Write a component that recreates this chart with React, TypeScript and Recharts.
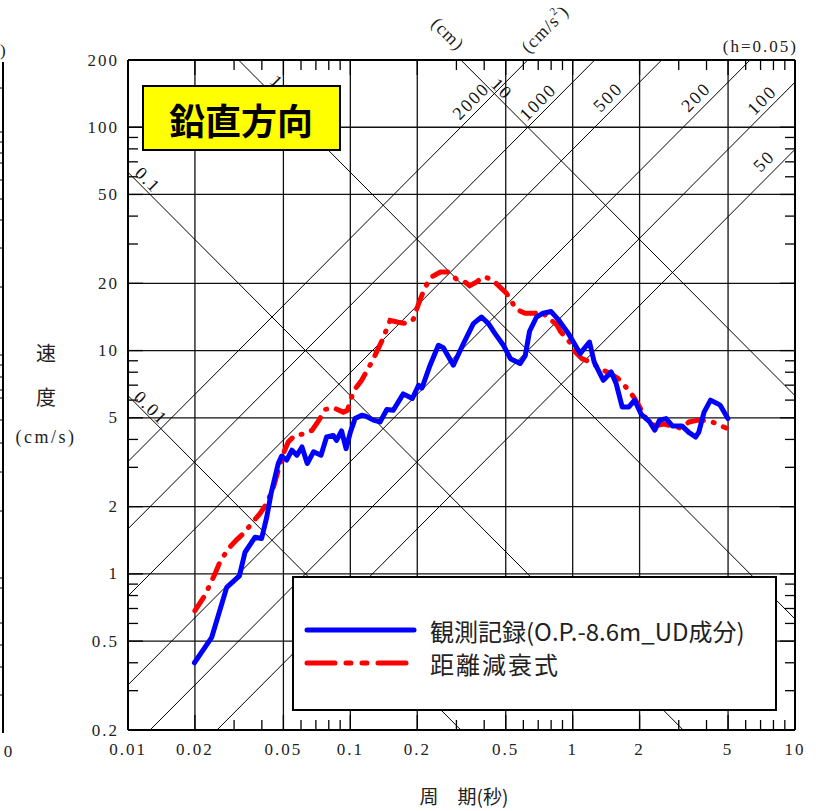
import React from "react";
import { LineChart, Line, XAxis, YAxis, ReferenceLine } from "recharts";

// observed record (O.P.-8.6m UD), period [s] / pseudo velocity [cm/s]
const observedPeriod = [
  0.0199, 0.0238, 0.0278, 0.0317, 0.0336, 0.0373, 0.0399, 0.0421, 0.044, 0.0474,
  0.0491, 0.0517, 0.0546, 0.0575, 0.0606, 0.064, 0.0683, 0.0738, 0.0782, 0.0838,
  0.0867, 0.0913, 0.0957, 0.1, 0.105, 0.1125, 0.1166, 0.127, 0.136, 0.146,
  0.156, 0.173, 0.19, 0.2027, 0.21, 0.2284, 0.249, 0.262, 0.2906, 0.32,
  0.3575, 0.389, 0.418, 0.4477, 0.488, 0.525, 0.58, 0.612, 0.64, 0.687,
  0.736, 0.8, 0.86, 0.958, 1.08, 1.19, 1.25, 1.374, 1.49, 1.57,
  1.67, 1.79, 1.9, 2.03, 2.22, 2.34, 2.46, 2.63, 2.81, 3.1,
  3.33, 3.57, 3.69, 3.9, 4.17, 4.46, 4.6, 4.99,
];
const observedVelocity = [
  0.4, 0.52, 0.87, 0.98, 1.25, 1.46, 1.44, 1.8, 2.29, 3.12,
  3.37, 3.23, 3.58, 3.4, 3.7, 3.12, 3.52, 3.4, 4.1, 4.17,
  3.96, 4.37, 3.64, 4.3, 4.96, 5.13, 5.1, 4.88, 4.79, 5.45,
  5.4, 6.4, 6.1, 6.99, 6.8, 8.6, 10.56, 10.3, 8.6, 10.56,
  13.2, 14.13, 13.2, 11.91, 10.56, 9.2, 8.75, 9.5, 12.2, 14.1,
  14.7, 14.95, 13.8, 11.9, 9.69, 10.92, 8.88, 7.36, 8.02, 7.1,
  5.59, 5.59, 6.0, 5.2, 4.79, 4.4, 4.88, 4.96, 4.6, 4.6,
  4.3, 4.1, 4.3, 5.3, 6.0, 5.8, 5.7, 4.96,
];

// attenuation relation
const attenPeriod = [
  0.02, 0.0222, 0.0246, 0.0259, 0.0283, 0.0308, 0.0336, 0.0359, 0.0392, 0.0421,
  0.0451, 0.0474, 0.05, 0.0526, 0.0563, 0.0615, 0.0672, 0.072, 0.077, 0.0839,
  0.093, 0.097, 0.1035, 0.1124, 0.1226, 0.129, 0.139, 0.151, 0.164, 0.179,
  0.192, 0.2027, 0.217, 0.2325, 0.254, 0.276, 0.3, 0.321, 0.344, 0.37,
  0.396, 0.432, 0.472, 0.505, 0.53, 0.56, 0.61, 0.677, 0.72, 0.78,
  0.85, 0.88, 0.97, 1.02, 1.1, 1.2, 1.33, 1.47, 1.6, 1.75,
  1.88, 2.0, 2.14, 2.34, 2.57, 2.78, 3.04, 3.34, 3.66, 4.14,
  4.46, 4.9,
];
const attenVelocity = [
  0.684, 0.803, 1.0, 1.13, 1.3, 1.42, 1.54, 1.68, 1.86, 2.07,
  2.45, 2.91, 3.46, 3.9, 4.17, 4.23, 4.39, 4.85, 5.45, 5.55,
  5.3, 5.4, 6.6, 7.36, 8.6, 9.5, 11.1, 13.66, 13.4, 13.2,
  13.8, 16.2, 19.24, 21.4, 22.46, 22.5, 20.9, 20.6, 19.5, 20.3,
  21.4, 20.9, 19.2, 18.0, 16.6, 15.3, 14.7, 14.7, 14.95, 14.0,
  13.0, 12.2, 10.9, 9.93, 9.2, 8.88, 8.3, 7.9, 7.5, 6.8,
  6.2, 5.59, 4.96, 4.6, 4.69, 4.6, 4.5, 4.79, 4.88, 4.84,
  4.69, 4.5,
];

const periodTicks = [0.01, 0.02, 0.05, 0.1, 0.2, 0.5, 1, 2, 5, 10];
const velocityTicks = [0.2, 0.5, 1, 2, 5, 10, 20, 50, 100, 200];
const minorSteps = [3, 4, 6, 7, 8, 9];
const dispLines = [0.01, 0.1, 1, 10]; // cm
const accLines = [50, 100, 200, 500, 1000, 2000]; // cm/s2

const T_MIN = 0.01, T_MAX = 10, V_MIN = 0.2, V_MAX = 200;
const TWO_PI = 2 * Math.PI;

const minors = (decades: number[], lo: number, hi: number) =>
  decades
    .flatMap((d) => minorSteps.map((m) => +(m * d).toPrecision(3)))
    .filter((v) => v > lo && v < hi);

const xTicks = [...periodTicks, ...minors([0.01, 0.1, 1], T_MIN, T_MAX)].sort((a, b) => a - b);
const yTicks = [...velocityTicks, ...minors([0.1, 1, 10, 100], V_MIN, V_MAX)].sort((a, b) => a - b);

const observed = observedPeriod.map((t, i) => ({ t, v: observedVelocity[i] }));
const atten = attenPeriod.map((t, i) => ({ t, v: attenVelocity[i] }));

const dispSeg = (d: number) => {
  const t0 = Math.max(T_MIN, (TWO_PI * d) / V_MAX);
  const t1 = Math.min(T_MAX, (TWO_PI * d) / V_MIN);
  return [{ x: t0, y: (TWO_PI * d) / t0 }, { x: t1, y: (TWO_PI * d) / t1 }];
};
const accSeg = (a: number) => {
  const t0 = Math.max(T_MIN, (V_MIN * TWO_PI) / a);
  const t1 = Math.min(T_MAX, (V_MAX * TWO_PI) / a);
  return [{ x: t0, y: (a * t0) / TWO_PI }, { x: t1, y: (a * t1) / TWO_PI }];
};

const isMajor = (v: number, list: number[]) => list.some((m) => Math.abs(m - v) < 1e-9);

const numFont = "'Liberation Serif', serif";
const jpFont = "'Noto Sans CJK JP', sans-serif";

function Tick(props: any) {
  const { x, y, payload, side } = props;
  const v = payload.value;
  const major = isMajor(v, side === "left" || side === "right" ? velocityTicks : periodTicks);
  const len = major ? 15 : 10;
  let line;
  let label = null;
  if (side === "bottom") {
    line = <line x1={x} y1={y} x2={x} y2={y - len} stroke="#000" strokeWidth={1.3} />;
    if (major)
      label = (
        <text x={x} y={y + 19} textAnchor="middle" dominantBaseline="central" fontSize={17} letterSpacing={2} fontFamily={numFont} fill="#222">
          {String(v)}
        </text>
      );
  } else if (side === "top") {
    line = <line x1={x} y1={y} x2={x} y2={y + len} stroke="#000" strokeWidth={1.3} />;
  } else if (side === "left") {
    line = <line x1={x} y1={y} x2={x + len} y2={y} stroke="#000" strokeWidth={1.3} />;
    if (major)
      label = (
        <text x={x - 9} y={y} textAnchor="end" dominantBaseline="central" fontSize={17} letterSpacing={2} fontFamily={numFont} fill="#222">
          {String(v)}
        </text>
      );
  } else {
    line = <line x1={x} y1={y} x2={x - len} y2={y} stroke="#000" strokeWidth={1.3} />;
  }
  return (
    <g>
      {line}
      {label}
    </g>
  );
}

const axisLine = { stroke: "#000", strokeWidth: 2 };

const diagLabels = [
  { text: "0.1", x: 148, y: 180, rot: 45 },
  { text: "0.01", x: 151, y: 408, rot: 45 },
  { text: "1", x: 277, y: 82, rot: 45 },
  { text: "10", x: 502, y: 89, rot: 45 },
  { text: "2000", x: 471, y: 101, rot: -45 },
  { text: "1000", x: 538, y: 102, rot: -45 },
  { text: "500", x: 608, y: 97, rot: -45 },
  { text: "200", x: 696, y: 97, rot: -45 },
  { text: "100", x: 762, y: 100, rot: -45 },
  { text: "50", x: 764, y: 161, rot: -45 },
];

const sideTicks = [88, 132, 142, 153, 163, 180, 199, 220, 248, 287, 355, 365, 377, 390, 398, 420, 443, 472, 511, 578, 588, 623, 645, 667, 695];

export default function App() {
  return (
    <div style={{ position: "absolute", left: 0, top: 0, width: 816, height: 811, background: "#fff" }}>
      <LineChart width={816} height={811} margin={{ top: 59, right: 20, bottom: 80, left: 127 }}>
        <XAxis dataKey="t" type="number" scale="log" domain={[T_MIN, T_MAX]} allowDataOverflow ticks={xTicks} interval={0}
          height={1} tickSize={0} tickMargin={0} tickLine={false} axisLine={axisLine}
          tick={(p: any) => <Tick {...p} side="bottom" />} />
        <XAxis xAxisId="top" orientation="top" dataKey="t" type="number" scale="log" domain={[T_MIN, T_MAX]} allowDataOverflow ticks={xTicks} interval={0}
          height={1} tickSize={0} tickMargin={0} tickLine={false} axisLine={axisLine}
          tick={(p: any) => <Tick {...p} side="top" />} />
        <YAxis type="number" scale="log" domain={[V_MIN, V_MAX]} allowDataOverflow ticks={yTicks} interval={0}
          width={1} tickSize={0} tickMargin={0} tickLine={false} axisLine={axisLine}
          tick={(p: any) => <Tick {...p} side="left" />} />
        <YAxis yAxisId="right" orientation="right" type="number" scale="log" domain={[V_MIN, V_MAX]} allowDataOverflow ticks={yTicks} interval={0}
          width={1} tickSize={0} tickMargin={0} tickLine={false} axisLine={axisLine}
          tick={(p: any) => <Tick {...p} side="right" />} />

        {periodTicks.slice(1, -1).map((v) => (
          <ReferenceLine key={"gx" + v} x={v} stroke="#111" strokeWidth={1.3} />
        ))}
        {velocityTicks.slice(1, -1).map((v) => (
          <ReferenceLine key={"gy" + v} y={v} stroke="#111" strokeWidth={1.3} />
        ))}
        {dispLines.map((d) => (
          <ReferenceLine key={"d" + d} segment={dispSeg(d)} ifOverflow="visible" stroke="#000" strokeWidth={1} />
        ))}
        {accLines.map((a) => (
          <ReferenceLine key={"a" + a} segment={accSeg(a)} ifOverflow="visible" stroke="#000" strokeWidth={1} />
        ))}

        <Line data={atten} dataKey="v" type="linear" stroke="#ff0000" strokeWidth={5} strokeDasharray="16 10 1 10"
          strokeLinecap="round" dot={false} isAnimationActive={false} />
        <Line data={observed} dataKey="v" type="linear" stroke="#0000ff" strokeWidth={5} strokeLinejoin="round"
          strokeLinecap="round" dot={false} isAnimationActive={false} />
      </LineChart>

      <svg width={816} height={811} style={{ position: "absolute", left: 0, top: 0, pointerEvents: "none" }}>
        {/* edge of the neighbouring panel */}
        <line x1={3} y1={62} x2={3} y2={733} stroke="#000" strokeWidth={2} />
        {sideTicks.map((ty) => (
          <line key={ty} x1={0} y1={ty} x2={3} y2={ty} stroke="#000" strokeWidth={1} />
        ))}
        <text x={0} y={50} dominantBaseline="central" fontSize={17} fontFamily={numFont} fill="#222">)</text>
        <text x={8} y={751} textAnchor="middle" dominantBaseline="central" fontSize={17} fontFamily={numFont} fill="#222">0</text>

        {/* axis titles */}
        <text x={46} y={352} textAnchor="middle" dominantBaseline="central" fontSize={20} fontFamily={jpFont} fill="#222">速</text>
        <text x={46} y={396} textAnchor="middle" dominantBaseline="central" fontSize={20} fontFamily={jpFont} fill="#222">度</text>
        <text x={46} y={437} textAnchor="middle" dominantBaseline="central" fontSize={18} letterSpacing={2.5} fontFamily={numFont} fill="#222">(cm/s)</text>
        <text x={464} y={795} textAnchor="middle" dominantBaseline="central" fontSize={19} fontFamily={jpFont} fill="#222">周　期(秒)</text>
        <text x={798} y={46} textAnchor="end" dominantBaseline="central" fontSize={17} letterSpacing={2} fontFamily={numFont} fill="#222">(h=0.05)</text>
        <text x={448} y={34} textAnchor="middle" dominantBaseline="central" fontSize={18} letterSpacing={1} fontFamily={numFont} fill="#222"
          transform="rotate(45 448 34)">(cm)</text>
        <text x={545} y={29} textAnchor="middle" dominantBaseline="central" fontSize={18} letterSpacing={1} fontFamily={numFont} fill="#222"
          transform="rotate(-45 545 29)">
          (cm/s<tspan fontSize={11} dy={-7}>2</tspan><tspan dy={7}>)</tspan>
        </text>

        {diagLabels.map((l) => (
          <text key={l.text + l.x} x={l.x} y={l.y} textAnchor="middle" dominantBaseline="central" fontSize={18} letterSpacing={2}
            fontFamily={numFont} fill="#111" transform={`rotate(${l.rot} ${l.x} ${l.y})`}>
            {l.text}
          </text>
        ))}

        {/* title */}
        <rect x={143} y={86} width={197} height={64} fill="#ffff00" stroke="#000" strokeWidth={2} />
        <text x={241} y={119} textAnchor="middle" dominantBaseline="central" fontSize={36} fontWeight="bold" fontFamily={jpFont} fill="#000">
          鉛直方向
        </text>

        {/* legend */}
        <rect x={293} y={577} width={483} height={133} fill="#fff" stroke="#000" strokeWidth={2} />
        <line x1={307} y1={630} x2={414} y2={630} stroke="#0000ff" strokeWidth={5} strokeLinecap="round" />
        <line x1={307} y1={663} x2={414} y2={663} stroke="#ff0000" strokeWidth={5} strokeLinecap="round" strokeDasharray="28 11 5 11 5 11" />
        <text x={430} y={630} dominantBaseline="central" fontSize={24} fontFamily={jpFont} fill="#222">観測記録(O.P.-8.6m_UD成分)</text>
        <text x={430} y={663} dominantBaseline="central" fontSize={24} letterSpacing={2} fontFamily={jpFont} fill="#222">距離減衰式</text>
      </svg>
    </div>
  );
}
